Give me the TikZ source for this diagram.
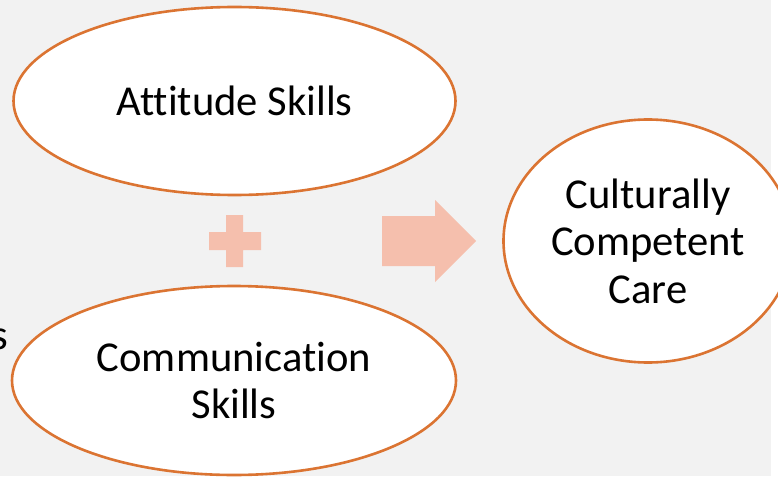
\documentclass[tikz,border=0pt]{standalone}
\usepackage{fontspec}
\setmainfont[Ligatures=NoCommon]{Carlito}
\definecolor{bg}{HTML}{F2F2F2}
\definecolor{edge}{HTML}{DB7432}
\definecolor{pale}{HTML}{F5BFAD}
\usetikzlibrary{shapes.geometric}
\tikzset{
  x=1pt,y=-1pt,
  labeltext/.style={font=\fontsize{42.6}{47.5}\selectfont,text=black},
  oval/.style={ellipse,draw=edge,fill=white,line width=2.6pt,inner sep=0pt,outer sep=0pt,align=center,labeltext},
}
\begin{document}
\begin{tikzpicture}
\useasboundingbox (0,0) rectangle (778,476);
\fill[white] (0,0) rectangle (778,476);
\fill[bg] (0,0) rectangle (771,476);
\node[labeltext,anchor=base east,inner sep=0pt] (cut) at (8,349.5) {s};
\node[oval,minimum width=442pt,minimum height=188pt] (att) at (234.5,101) {Attitude Skills};
\node[oval,minimum width=444pt,minimum height=189pt] (com) at (234,380.5) {Communication\\Skills};
\node[oval,minimum width=289pt,minimum height=243pt] (care) at (648,241) {Culturally\\Competent\\Care};
\fill[pale] (226,215) -- (243,215) -- (243,232) -- (261,232) -- (261,250) -- (243,250) -- (243,267) -- (226,267) -- (226,250) -- (209,250) -- (209,232) -- (226,232) -- cycle;
\fill[pale] (382,216) -- (435,216) -- (435,200) -- (476,241) -- (435,282) -- (435,266) -- (382,266) -- cycle;
\end{tikzpicture}
\end{document}
